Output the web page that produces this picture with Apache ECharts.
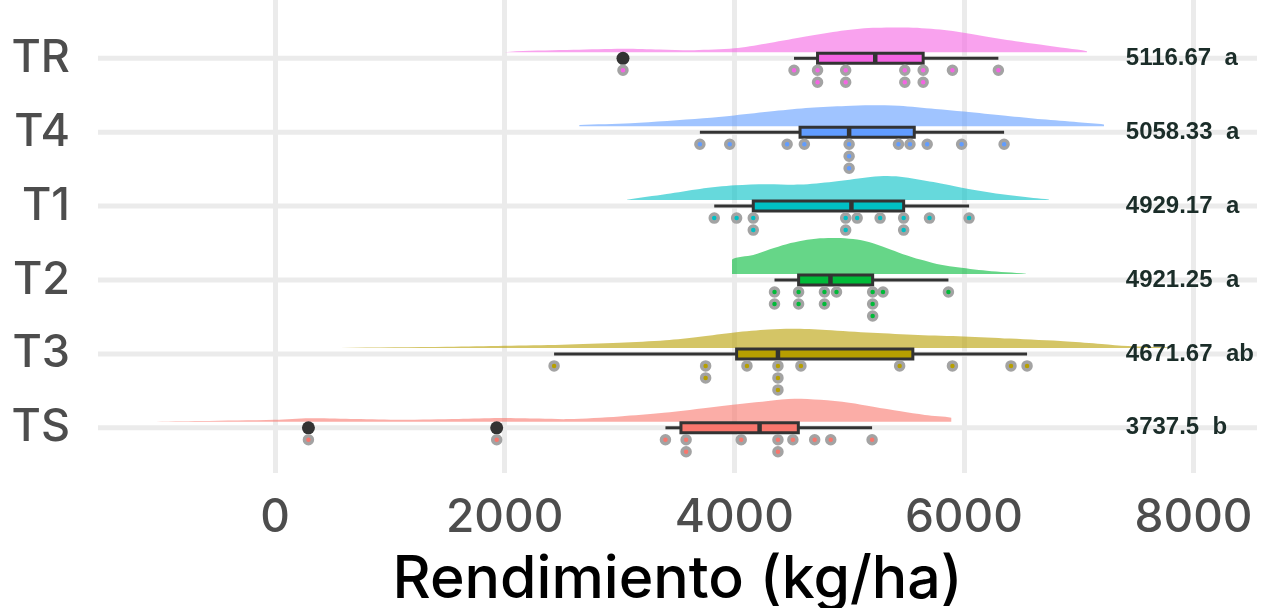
<!DOCTYPE html>
<html>
<head>
<meta charset="utf-8">
<script src="https://cdn.jsdelivr.net/npm/echarts@6/dist/echarts.min.js"></script>
<style>
  html, body { margin: 0; padding: 0; background: #ffffff; }
  #chart { width: 1268px; height: 608px; }
</style>
</head>
<body>
<div id="chart"></div>
<script>
// Treatments, top to bottom
const categories = ['TR', 'T4', 'T1', 'T2', 'T3', 'TS'];

// Grain yield per plot (kg/ha), 12 plots per treatment
const yieldTR = [3030, 4520, 4725, 4725, 4970, 4970, 5485, 5485, 5645, 5645, 5900, 6300];
const yieldT4 = [3700, 3960, 4460, 4610, 5000, 5000, 5000, 5430, 5530, 5680, 5980, 6350];
const yieldT1 = [3825, 4020, 4165, 4165, 4970, 4970, 5070, 5270, 5475, 5475, 5700, 6045];
const yieldT2 = [4350, 4350, 4560, 4560, 4785, 4785, 4890, 5205, 5205, 5205, 5295, 5865];
const yieldT3 = [2430, 3750, 3750, 4110, 4380, 4380, 4380, 4580, 5440, 5900, 6410, 6550];
const yieldTS = [290, 1930, 3400, 3580, 3580, 4060, 4380, 4380, 4510, 4700, 4840, 5200];

// Treatment means and Tukey grouping letters
const meanYield = [5116.67, 5058.33, 4929.17, 4921.25, 4671.67, 3737.5];
const tukeyLetters = ['a', 'a', 'a', 'a', 'ab', 'b'];

// Half-violin density profiles: [yield, relative density]
const densityTR = [[2000, 0], [2100, 0.03], [2600, 0.07], [3030, 0.10], [3350, 0.08], [3650, 0.06], [4000, 0.11], [4270, 0.24], [4585, 0.42], [4895, 0.58], [5207, 0.68], [5518, 0.69], [5829, 0.62], [6140, 0.47], [6451, 0.31], [6663, 0.22], [6900, 0.11], [7072, 0.03]];
const densityT4 = [[2650, 0.03], [3100, 0.08], [3730, 0.22], [4000, 0.30], [4350, 0.42], [4660, 0.51], [4970, 0.56], [5190, 0.58], [5435, 0.57], [5750, 0.48], [6000, 0.41], [6365, 0.29], [6680, 0.19], [6995, 0.11], [7220, 0.05]];
const densityT1 = [[3065, 0.01], [3410, 0.17], [3700, 0.31], [4005, 0.41], [4280, 0.44], [4570, 0.43], [4860, 0.51], [5150, 0.63], [5300, 0.67], [5445, 0.65], [5735, 0.50], [6005, 0.33], [6315, 0.17], [6605, 0.06], [6740, 0.02]];
const densityT2 = [[3980, 0.40], [4165, 0.53], [4310, 0.69], [4455, 0.83], [4600, 0.93], [4745, 0.99], [4890, 1.00], [5035, 0.97], [5180, 0.88], [5325, 0.72], [5470, 0.55], [5620, 0.40], [5765, 0.28], [5910, 0.20], [6200, 0.09], [6540, 0.01]];
const densityT3 = [[570, 0], [1500, 0.03], [2000, 0.06], [2500, 0.09], [3000, 0.14], [3400, 0.21], [3700, 0.31], [4000, 0.43], [4300, 0.51], [4500, 0.53], [4800, 0.50], [5200, 0.42], [5600, 0.36], [6000, 0.32], [6400, 0.26], [6900, 0.18], [7200, 0.11], [7430, 0.05], [7800, 0.01]];
const densityTS = [[-1090, 0], [-650, 0.02], [0, 0.055], [300, 0.10], [700, 0.08], [1100, 0.06], [1600, 0.08], [1950, 0.105], [2300, 0.09], [2550, 0.075], [3000, 0.15], [3385, 0.25], [3840, 0.42], [4295, 0.58], [4525, 0.64], [4750, 0.61], [5000, 0.53], [5210, 0.42], [5450, 0.29], [5660, 0.19], [5890, 0.11]];

const yields = [yieldTR, yieldT4, yieldT1, yieldT2, yieldT3, yieldTS];
const densities = [densityTR, densityT4, densityT1, densityT2, densityT3, densityTS];

// ---- styling ----
const COLORS = ['#F564E3', '#619CFF', '#00BFC4', '#00BA38', '#B79F00', '#F8766D'];
const X_MIN = -1543, X_MAX = 8553;
const AXIS_FONT = 'Inter';
const LABEL_X = 7410;         // where the mean/letter annotations start
const SLAB_FRAC = 0.487;      // slab height for relative density 1, as a share of a row
const SLAB_LIFT = 6;          // px between row line and slab base
const BOX_HALF = 5;           // px, half box thickness
const DOT_DROP = 12, DOT_STEP = 12;

function hexA(hex, a) {
  const n = parseInt(hex.slice(1), 16);
  return 'rgba(' + (n >> 16) + ',' + ((n >> 8) & 255) + ',' + (n & 255) + ',' + a + ')';
}

// R type-7 quantile
function quantile(sorted, p) {
  const h = (sorted.length - 1) * p;
  const lo = Math.floor(h);
  const hi = Math.min(lo + 1, sorted.length - 1);
  return sorted[lo] + (h - lo) * (sorted[hi] - sorted[lo]);
}

// Tukey boxplot statistics for each treatment
const stats = yields.map(arr => {
  const s = arr.slice().sort((a, b) => a - b);
  const q1 = quantile(s, 0.25), med = quantile(s, 0.5), q3 = quantile(s, 0.75);
  const iqr = q3 - q1;
  const fLo = q1 - 1.5 * iqr, fHi = q3 + 1.5 * iqr;
  const inside = s.filter(v => v >= fLo && v <= fHi);
  return {
    q1, med, q3,
    lo: inside[0], hi: inside[inside.length - 1],
    out: s.filter(v => v < fLo || v > fHi)
  };
});

// stacked dots below each box (equal values pile downward)
const dotData = [];
yields.forEach((arr, i) => {
  const seen = {};
  arr.forEach(v => {
    const k = seen[v] || 0;
    seen[v] = k + 1;
    dotData.push({
      value: [v, i],
      symbolOffset: [0, DOT_DROP + DOT_STEP * k],
      itemStyle: { color: COLORS[i] }
    });
  });
});

const outlierData = [];
stats.forEach((s, i) => s.out.forEach(v => outlierData.push([v, i])));

const rowData = categories.map((c, i) => [0, i]);

const chart = echarts.init(document.getElementById('chart'), null, { renderer: 'canvas' });

chart.setOption({
  animation: false,
  backgroundColor: '#ffffff',
  grid: [
    { left: 98, right: 11, top: 0, height: 473, containLabel: false, outerBoundsMode: 'none' },
    { left: 98, right: 11, top: 21.35, height: 443.4, containLabel: false, outerBoundsMode: 'none' }
  ],
  xAxis: [
    {
      type: 'value', gridIndex: 0, min: X_MIN, max: X_MAX,
      axisLine: { show: false }, axisTick: { show: false },
      axisLabel: {
        fontSize: 46, fontWeight: 500, color: '#4D4D4D', margin: 16, fontFamily: AXIS_FONT,
        padding: [6, 0, 0, 0],
        showMinLabel: false, showMaxLabel: false,
        formatter: v => String(v)
      },
      splitLine: {
        show: true, showMinLine: false, showMaxLine: false,
        lineStyle: { color: '#EBEBEB', width: 5 }
      },
      name: 'Rendimiento (kg/ha)', nameLocation: 'middle', nameGap: 78,
      nameTextStyle: { fontSize: 59, fontWeight: 500, color: '#000000', fontFamily: AXIS_FONT }
    },
    { type: 'value', gridIndex: 1, min: X_MIN, max: X_MAX, show: false }
  ],
  yAxis: [
    { type: 'value', gridIndex: 0, show: false },
    {
      type: 'category', gridIndex: 1, data: categories, inverse: true,
      axisLine: { show: false }, axisTick: { show: false }, splitLine: { show: false },
      axisLabel: { fontSize: 45, fontWeight: 500, color: '#4D4D4D', margin: 28, fontFamily: AXIS_FONT, padding: [6, 0, 0, 0] }
    }
  ],
  series: [
    {
      // horizontal row lines
      type: 'custom', xAxisIndex: 1, yAxisIndex: 1, z: 1, silent: true, clip: false,
      data: rowData,
      renderItem: (params, api) => {
        const i = params.dataIndex;
        const a = api.coord([X_MIN, i]), b = api.coord([X_MAX, i]);
        return { type: 'line', shape: { x1: a[0], y1: a[1], x2: b[0], y2: b[1] },
                 style: { stroke: '#EBEBEB', lineWidth: 5 } };
      }
    },
    {
      // half-violin slabs
      type: 'custom', xAxisIndex: 1, yAxisIndex: 1, z: 2, silent: true, clip: false,
      data: rowData,
      renderItem: (params, api) => {
        const i = params.dataIndex;
        const prof = densities[i];
        const scale = api.size([0, 1])[1] * SLAB_FRAC;
        const base = api.coord([0, i])[1] - SLAB_LIFT;
        const pts = [[api.coord([prof[0][0], i])[0], base]];
        prof.forEach(p => pts.push([api.coord([p[0], i])[0], base - p[1] * scale]));
        pts.push([api.coord([prof[prof.length - 1][0], i])[0], base]);
        const xs = pts.map(p => p[0]), ys = pts.map(p => p[1]);
        const box = [[Math.min(...xs), Math.min(...ys)], [Math.max(...xs), Math.max(...ys)]];
        return { type: 'polygon', shape: { points: pts, smooth: 0.3, smoothConstraint: box },
                 style: { fill: hexA(COLORS[i], 0.6) } };
      }
    },
    {
      // boxplots
      type: 'custom', xAxisIndex: 1, yAxisIndex: 1, z: 3, silent: true, clip: false,
      data: rowData,
      renderItem: (params, api) => {
        const i = params.dataIndex;
        const s = stats[i];
        const y = api.coord([0, i])[1];
        const px = v => api.coord([v, i])[0];
        const line = { stroke: '#333333', lineWidth: 3 };
        return {
          type: 'group',
          children: [
            { type: 'line', shape: { x1: px(s.lo), y1: y, x2: px(s.q1), y2: y }, style: line },
            { type: 'line', shape: { x1: px(s.q3), y1: y, x2: px(s.hi), y2: y }, style: line },
            { type: 'rect', shape: { x: px(s.q1), y: y - BOX_HALF, width: px(s.q3) - px(s.q1), height: 2 * BOX_HALF },
              style: { fill: COLORS[i], stroke: '#333333', lineWidth: 3 } },
            { type: 'line', shape: { x1: px(s.med), y1: y - BOX_HALF, x2: px(s.med), y2: y + BOX_HALF },
              style: { stroke: '#333333', lineWidth: 4.5 } }
          ]
        };
      }
    },
    {
      // outliers
      type: 'scatter', xAxisIndex: 1, yAxisIndex: 1, z: 4, silent: true,
      symbol: 'circle', symbolSize: 13,
      itemStyle: { color: '#333333', opacity: 1 },
      data: outlierData
    },
    {
      // individual plots
      type: 'scatter', xAxisIndex: 1, yAxisIndex: 1, z: 5, silent: true,
      symbol: 'circle', symbolSize: 8,
      itemStyle: { borderColor: '#A3A3A3', borderWidth: 3.5, opacity: 1 },
      data: dotData
    },
    {
      // mean and grouping letter
      type: 'custom', xAxisIndex: 1, yAxisIndex: 1, z: 6, silent: true, clip: false,
      data: rowData,
      renderItem: (params, api) => {
        const i = params.dataIndex;
        const p = api.coord([LABEL_X, i]);
        return {
          type: 'text', x: p[0], y: p[1],
          style: {
            text: meanYield[i] + '  ' + tukeyLetters[i],
            font: 'bold 24px "Liberation Sans", Arial, sans-serif',
            fill: '#1B2D29', align: 'left', verticalAlign: 'middle'
          }
        };
      }
    }
  ]
});
</script>
</body>
</html>
